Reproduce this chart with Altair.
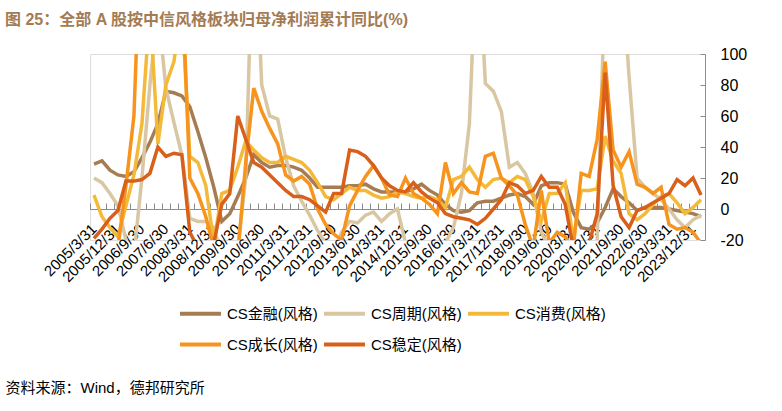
import altair as alt
import pandas as pd

# ---------------- data ----------------
quarter_ends = ["3/31", "6/30", "9/30", "12/31"]
dates = [f"{y}/{q}" for y in range(2005, 2025) for q in quarter_ends][:77]
label_dates = dates[::3]

series_names = ["CS金融(风格)", "CS周期(风格)", "CS消费(风格)", "CS成长(风格)", "CS稳定(风格)"]
colors = ["#A67C52", "#D8C7A2", "#F5B93A", "#F7941D", "#D8601B"]

finance = [29, 31, 25, 22, 21, 24, 33, 43, 55, 76, 75, 73, 66, 50, 33, 14, -8, -3, 8, 20,
           35, 30, 27, 28, 28, 27, 25, 20, 14, 14, 14, 14, 15, 15, 16, 13, 11, 11, 11, 11,
           13, 16, 12, 9, 3, -1, -2, -1, 4, 5, 5, 7, 9, 10, 8, 3, 15, 17, 17, 16,
           -2, -12, -13, -9, 1, 13, 8, 4, -1, 1, 1, 1, 0, -1, -2, -3, -5]
cyclical = [20, 17, 10, 2, -20, -30, 20, 80, 130, 78, 56, 35, -6, -8, -8, -12, -30, -30, -25, 20,
            200, 80, 60, 58, 33, 15, 5, -4, -14, -22, -28, -15, -8, -9, -4, -2, -8, -3, 0, -22,
            -30, -30, -28, -26, -22, -12, 10, 55, 180, 81, 76, 63, 27, 30, 23, 10, -15, -25, -28, -25,
            -30, -35, -30, -20, 150, 200, 160, 85, 20, 14, 10, 6, 0, -7, -12, -7, -4]
consumer = [9, -5, -12, -18, 2, 22, 55, 130, 42, 80, 95, 130, 34, 30, 15, -22, 10, 12, 27, 44,
            38, 33, 30, 30, 34, 32, 30, 25, 17, 8, 6, 10, 14, 12, 12, 9, 7, 8, 11, 10,
            8, 7, 8, 6, 1, 19, 21, 27, 19, 14, 19, 20, 17, 21, 19, 8, -8, 10, 10, 17,
            -20, 12, 12, 13, 47, 31, 23, -3, -7, -3, 3, 8, 10, 4, -3, 1, 6]
growth = [-30, -30, -28, -25, 15, 60, 200, 200, 200, 200, 200, 150, 20, 10, -5, -25, -30, -28, -30, 30,
          78, 63, 52, 42, 22, 18, 21, 16, 0, -10, -16, -20, 2, 12, 21, 28, 20, 9, 8, 20,
          10, 7, 3, -3, 30, 10, 17, 11, 10, 34, 36, 20, 15, 9, -10, -25, 12, -22, -15, -18,
          -25, 23, 21, 45, 95, 38, 27, 37, 16, 14, 10, 14, -10, -13, -12, -15, -22]
stable = [-19, -13, -6, -1, 18, 18, 19, 23, 40, 34, 36, 35, -15, -25, -25, -22, 3, 10, 60, 45,
          30, 27, 22, 17, 12, 8, 8, 6, 2, -2, 10, 10, 38, 37, 34, 28, 20, 15, 12, 11,
          17, 11, 7, 4, -3, -5, -6, -7, -10, -6, 0, 6, 17, 15, 10, 12, 21, 14, 14, 3,
          -25, -25, -22, -3, 88, 15, -5, -12, -1, 1, 4, 7, 10, 19, 15, 20, 9]

y_values = [-20, 0, 20, 40, 60, 80, 100]
title_text = "图 25：全部 A 股按中信风格板块归母净利润累计同比(%)"
source_text = "资料来源：Wind，德邦研究所"

rows = []
for name, vals in zip(series_names, [finance, cyclical, consumer, growth, stable]):
    for d, v in zip(dates, vals):
        rows.append({"date": d, "series": name, "value": v})
df = pd.DataFrame(rows)

# ---------------- layout ----------------
W, H = 615, 186
ZERO = H * 100 / 120  # pixel distance of y=0 from the top
LATIN = "Liberation Sans, Noto Sans CJK SC"
GRAY = "#8c8c8c"

x_scale = alt.Scale(type="band", domain=dates, paddingInner=0, paddingOuter=0)
y_scale = alt.Scale(domain=[-20, 100], nice=False, zero=False)
c_scale = alt.Scale(domain=series_names, range=colors)

tick_x_axis = alt.Axis(orient="top", offset=-ZERO, labels=False, ticks=True, tickBand="extent",
                       tickSize=6, tickColor=GRAY, domain=True, domainColor=GRAY, domainWidth=1,
                       grid=False, title=None)
label_x_axis = alt.Axis(orient="bottom", offset=-(H - ZERO), values=label_dates, ticks=False, tickSize=0,
                        domain=False, grid=False, labelAngle=-45, labelAlign="right",
                        labelBaseline="middle", labelPadding=17, labelFontSize=15, labelFont=LATIN,
                        labelColor="#000000", labelOverlap=False, labelBound=False,
                        title=source_text, titleX=-85, titleY=183, titleAngle=0, titleAlign="left",
                        titleBaseline="alphabetic", titleFontSize=15, titleFontWeight="normal",
                        titleFont=LATIN, titleColor="#000000")
tick_y_axis = alt.Axis(orient="left", offset=-W, values=y_values, labels=False, ticks=True,
                       tickSize=5, tickColor=GRAY, domain=True, domainColor=GRAY, grid=False, title=None)
label_y_axis = alt.Axis(orient="right", values=y_values, labels=True, ticks=False, tickSize=0,
                        domain=False, grid=False, labelPadding=15, labelFontSize=16, labelFont=LATIN,
                        labelColor="#000000", labelExpr="'' + datum.value", title=None)

legend = alt.Legend(orient="none", legendX=88, legendY=252, direction="horizontal", columns=3,
                    title=None, symbolType="stroke", symbolSize=1681, symbolStrokeWidth=4,
                    clipHeight=15, labelFontSize=15, labelFont=LATIN, labelColor="#000000",
                    labelOffset=4, columnPadding=4, rowPadding=15, padding=0, labelLimit=300)

base = alt.Chart(df)


def series_layer(i, xaxis, yaxis, leg):
    return base.transform_filter(alt.datum.series == series_names[i]).mark_line(
        strokeWidth=3.5, clip=True
    ).encode(
        x=alt.X("date:N", sort=dates, scale=x_scale, axis=xaxis),
        y=alt.Y("value:Q", scale=y_scale, axis=yaxis),
        color=alt.Color("series:N", sort=series_names, scale=c_scale, legend=leg),
    )


layers = [
    series_layer(0, tick_x_axis, tick_y_axis, legend),
    series_layer(1, label_x_axis, label_y_axis, legend),
    series_layer(2, None, None, legend),
    series_layer(3, None, None, legend),
    series_layer(4, None, None, legend),
]

chart = alt.layer(*layers).resolve_axis(x="independent", y="independent").properties(
    width=W,
    height=H,
    autosize=alt.AutoSizeParams(type="none"),
    padding={"left": 90, "top": 54, "right": 77, "bottom": 171},
    title=alt.TitleParams(title_text, anchor="start", frame="group", orient="top", fontSize=16,
                          fontWeight="bold", color="#A47B52", font=LATIN, baseline="bottom",
                          offset=0, dx=-85, dy=-2),
).configure_view(stroke=None).configure(background="#ffffff")

chart.save("out.html", embed_options={"renderer": "svg", "actions": False})
